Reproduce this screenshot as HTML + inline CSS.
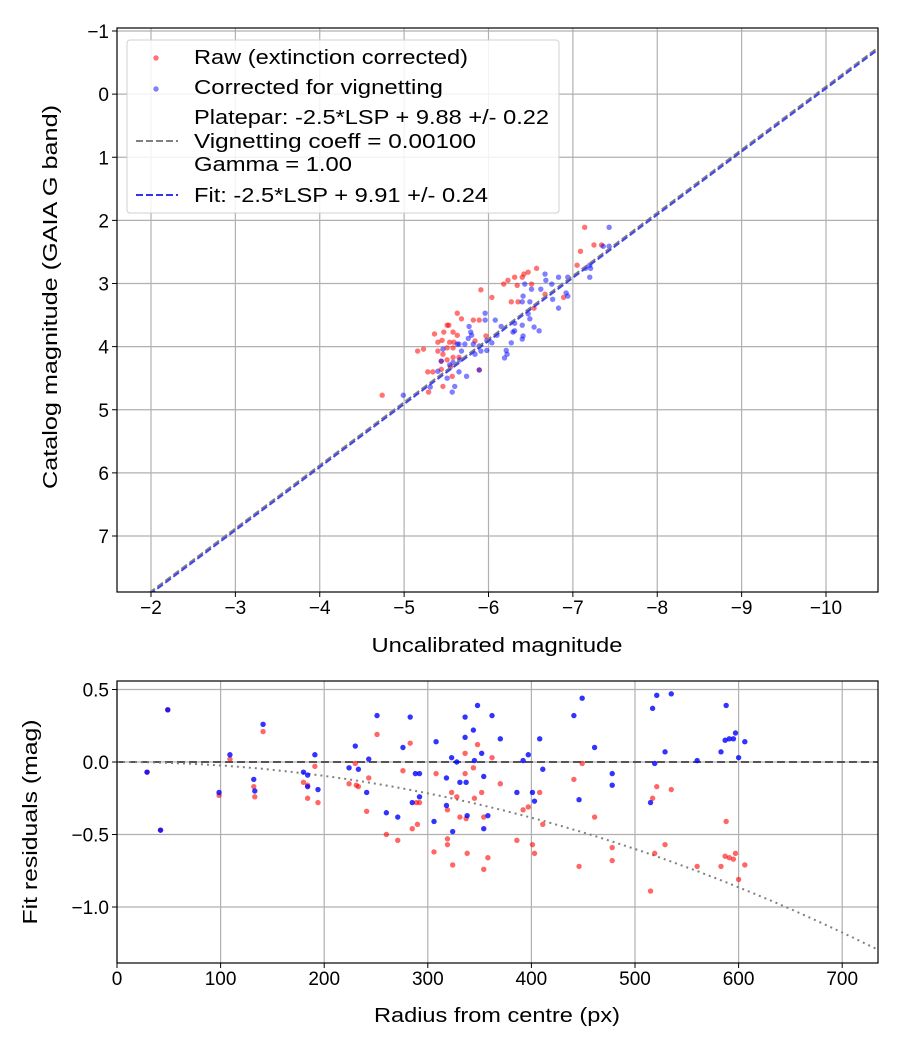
<!DOCTYPE html>
<html><head><meta charset="utf-8"><style>
body{margin:0;background:#fff;}
svg{display:block;font-family:"Liberation Sans","DejaVu Sans",sans-serif;}
</style></head><body>
<svg id="chart" width="900" height="1050" viewBox="0 0 900 1050" xmlns="http://www.w3.org/2000/svg">
<rect width="900" height="1050" fill="#fff"/>
<g id="top"></g><g id="bot"></g>
</svg>
<script>
// Top panel data: [uncalibrated magnitude, catalog magnitude]
const rawTop=[[-7.14,2.11],[-7.09,2.49],[-7.25,2.39],[-7.34,2.39],[-7.05,2.71],[-6.57,2.76],[-6.47,2.82],[-6.42,2.85],[-6.40,2.90],[-6.31,2.90],[-6.23,2.95],[-6.18,3.01],[-6.34,3.03],[-6.51,3.01],[-5.91,3.10],[-6.04,3.22],[-6.27,3.29],[-6.35,3.29],[-6.54,3.39],[-6.89,3.22],[-6.67,3.17],[-5.63,3.47],[-5.68,3.56],[-5.82,3.58],[-5.89,3.58],[-5.51,3.66],[-5.53,3.66],[-5.47,3.77],[-5.58,3.77],[-5.63,3.82],[-5.36,3.80],[-5.45,3.90],[-5.40,3.93],[-5.54,3.93],[-5.59,3.93],[-5.16,4.07],[-5.23,4.04],[-5.40,4.07],[-5.51,4.02],[-5.58,4.02],[-5.84,3.91],[-5.97,3.83],[-5.46,4.12],[-5.44,4.23],[-5.51,4.21],[-5.58,4.17],[-5.65,4.17],[-5.55,4.32],[-5.28,4.40],[-5.34,4.40],[-5.44,4.36],[-5.57,4.47],[-5.46,4.63],[-5.29,4.72],[-4.74,4.77],[-5.89,4.37]];
const corTop=[[-7.43,2.11],[-7.43,2.41],[-7.36,2.41],[-7.20,2.71],[-7.21,2.76],[-7.15,2.76],[-7.20,2.90],[-6.94,2.90],[-6.83,2.90],[-6.67,2.85],[-6.68,2.95],[-6.43,3.01],[-6.51,3.09],[-6.62,3.09],[-6.75,3.01],[-6.92,3.15],[-6.94,3.20],[-6.76,3.25],[-6.83,3.39],[-6.41,3.20],[-6.40,3.29],[-6.49,3.29],[-6.47,3.48],[-6.49,3.56],[-5.96,3.47],[-5.96,3.58],[-6.08,3.58],[-5.77,3.68],[-6.15,3.68],[-6.31,3.63],[-6.40,3.66],[-6.54,3.69],[-6.60,3.75],[-5.79,3.77],[-5.80,3.82],[-6.31,3.75],[-6.29,3.77],[-6.41,3.83],[-6.40,3.88],[-5.76,3.87],[-6.10,3.82],[-5.65,3.96],[-5.72,3.96],[-5.82,3.96],[-5.89,3.99],[-5.98,3.90],[-6.04,3.94],[-6.27,3.94],[-5.91,4.07],[-5.98,4.06],[-5.84,4.12],[-6.21,4.06],[-6.22,4.12],[-6.19,4.18],[-5.46,4.04],[-5.44,4.23],[-5.58,4.25],[-5.66,4.21],[-5.68,4.07],[-5.63,3.96],[-5.40,4.39],[-5.51,4.50],[-5.65,4.40],[-5.74,4.47],[-5.54,4.29],[-5.60,4.63],[-5.57,4.72],[-5.31,4.64],[-4.99,4.77],[-5.89,4.37]];
const plateparZP=9.88;
const fitZP=9.91;
const topXTicks=[-2,-3,-4,-5,-6,-7,-8,-9,-10];
const topYTicks=[-1,0,1,2,3,4,5,6,7];
// Bottom panel data: [radius px, residual mag]
const rawBot=[[29,-0.07],[49,0.36],[42,-0.47],[98.5,-0.23],[109,0.02],[132,-0.17],[133,-0.24],[141,0.21],[180,-0.14],[184,-0.16],[184,-0.25],[191,-0.03],[194,-0.28],[224,-0.15],[230,-0.01],[231,-0.16],[233,-0.17],[243,-0.11],[241,-0.34],[251,0.19],[260,-0.50],[271,-0.54],[276,-0.06],[283,0.13],[285,-0.46],[290,-0.43],[289,-0.28],[292,-0.28],[306,-0.62],[308,-0.08],[319,-0.33],[319,-0.53],[319,-0.57],[323,-0.21],[328,-0.24],[324,-0.71],[331,-0.38],[337,-0.39],[336,0.06],[336,-0.08],[344,-0.04],[345,-0.25],[348,0.12],[352,-0.21],[354,-0.38],[338,-0.63],[358,-0.66],[354,-0.74],[362,0.03],[370,-0.15],[386,-0.54],[392,-0.33],[397,-0.31],[408,-0.21],[411,-0.43],[401,-0.57],[403,-0.63],[441,-0.12],[449,-0.01],[446,-0.72],[461,-0.38],[478,-0.59],[478,-0.68],[517,-0.25],[521,-0.17],[535,-0.19],[529,-0.57],[519,-0.63],[515,-0.89],[560,-0.72],[583,-0.72],[588,-0.41],[587,-0.65],[591,-0.66],[595,-0.67],[597,-0.63],[606,-0.71],[600,-0.81]];
const corBot=[[29,-0.07],[49,0.36],[42,-0.47],[98.5,-0.21],[109,0.05],[132,-0.12],[133,-0.20],[141,0.26],[180,-0.07],[184,-0.09],[184,-0.17],[191,0.05],[194,-0.19],[224,-0.04],[233,-0.05],[230,0.11],[243,0.02],[241,-0.21],[251,0.32],[260,-0.35],[271,-0.38],[276,0.10],[283,0.31],[285,-0.28],[288,-0.08],[292,-0.08],[292,-0.24],[306,-0.41],[308,0.14],[318,-0.11],[318,-0.30],[323,0.03],[324,-0.48],[328,0.00],[331,-0.14],[337,-0.14],[336,0.31],[336,0.17],[338,-0.37],[344,0.22],[348,0.39],[345,0.01],[352,0.06],[354,-0.10],[354,-0.46],[358,-0.37],[362,0.32],[370,0.16],[386,-0.21],[392,0.01],[397,0.05],[401,-0.21],[403,-0.27],[408,0.16],[411,-0.05],[441,0.32],[449,0.44],[446,-0.26],[461,0.10],[478,-0.08],[478,-0.16],[515,-0.28],[517,0.37],[519,-0.01],[521,0.46],[529,0.07],[535,0.47],[560,0.01],[583,0.07],[587,0.15],[588,0.39],[591,0.16],[595,0.16],[597,0.20],[600,0.03],[606,0.14]];
const botXTicks=[0,100,200,300,400,500,600,700];
const botYTicks=[0.5,0,-0.5,-1.0];
const botYLabels=["0.5","0.0","\u22120.5","\u22121.0"];
const vigQuad=2.4e-6;

const NS="http://www.w3.org/2000/svg";
function mk(parent,tag,attrs){const e=document.createElementNS(NS,tag);for(const k in attrs)e.setAttribute(k,attrs[k]);parent.appendChild(e);return e;}
function txt(parent,x,y,s,anchor,size,extra){const t=mk(parent,'text',Object.assign({x:x,y:y,'text-anchor':anchor,'font-size':size,fill:'#000'},extra||{}));t.textContent=s;return t;}
const minus=v=>String(v).replace('-','\u2212');
const FIT={lengthAdjust:'spacingAndGlyphs'};

// ---------- TOP ----------
const T=document.getElementById('top');
const tL=117,tR=878,tT=28,tB=592;
const tx=v=>151+(-2-v)*84.375;
const ty=v=>31+(v+1)*63.125;
topXTicks.forEach(v=>{const l=mk(T,'line',{x1:tx(v),x2:tx(v),y1:tT,y2:tB,stroke:'#b0b0b0','stroke-width':1.2});});
topYTicks.forEach(v=>{const l=mk(T,'line',{x1:tL,x2:tR,y1:ty(v),y2:ty(v),stroke:'#b0b0b0','stroke-width':1.2});});
const clipT=mk(T,'clipPath',{id:'ct'});mk(clipT,'rect',{x:tL,y:tT,width:tR-tL,height:tB-tT});
const gT=mk(T,'g',{'clip-path':'url(#ct)'});
rawTop.forEach(p=>{const c=mk(gT,'circle',{cx:tx(p[0]),cy:ty(p[1]),r:2.7,fill:'red','fill-opacity':0.55});});
corTop.forEach(p=>{const c=mk(gT,'circle',{cx:tx(p[0]),cy:ty(p[1]),r:2.7,fill:'blue','fill-opacity':0.5});});
const xa=-1.6,xb=-10.7;
const pl=mk(gT,'line',{x1:tx(xa),y1:ty(xa+plateparZP),x2:tx(xb),y2:ty(xb+plateparZP),stroke:'#808080','stroke-width':2,'stroke-dasharray':'7,3'});

const fl=mk(gT,'line',{x1:tx(xa),y1:ty(xa+fitZP),x2:tx(xb),y2:ty(xb+fitZP),stroke:'#3333ee','stroke-width':2,'stroke-dasharray':'7,3','stroke-opacity':0.9});

const fr=mk(T,'rect',{x:tL,y:tT,width:tR-tL,height:tB-tT,fill:'none',stroke:'#000','stroke-width':1.2});

topXTicks.forEach(v=>{mk(T,'line',{x1:tx(v),x2:tx(v),y1:tB,y2:tB+5,stroke:'#000'});const t=txt(T,tx(v),tB+22,minus(v),'middle',19);});
topYTicks.forEach(v=>{mk(T,'line',{x1:tL-5,x2:tL,y1:ty(v),y2:ty(v),stroke:'#000'});const t=txt(T,tL-8,ty(v)+7,minus(v),'end',19);});
let t1=txt(T,497,652,'Uncalibrated magnitude','middle',20,Object.assign({textLength:251},FIT));
let t2=txt(T,0,0,'Catalog magnitude (GAIA G band)','middle',20,Object.assign({textLength:384,transform:'translate(57,297) rotate(-90)'},FIT));
// legend
const L=mk(T,'g',{});
mk(L,'rect',{x:127,y:40,width:432,height:173,rx:3,fill:'#fff','fill-opacity':0.85,stroke:'#d0d0d0'});
mk(L,'circle',{cx:156,cy:58,r:2.7,fill:'red','fill-opacity':0.55});
mk(L,'circle',{cx:156,cy:89,r:2.7,fill:'blue','fill-opacity':0.5});
mk(L,'line',{x1:136,x2:178,y1:141,y2:141,stroke:'#808080','stroke-width':2,'stroke-dasharray':'7,3'});
mk(L,'line',{x1:136,x2:178,y1:195,y2:195,stroke:'#3333ee','stroke-width':2,'stroke-dasharray':'7,3'});
[['Raw (extinction corrected)',64,274],['Corrected for vignetting',94,249],['Platepar: -2.5*LSP + 9.88 +/- 0.22',124,355],['Vignetting coeff = 0.00100',148,282],['Gamma = 1.00',171,158],['Fit: -2.5*LSP + 9.91 +/- 0.24',202,294]].forEach(a=>{const t=txt(L,194,a[1],a[0],'start',20,Object.assign({textLength:a[2]},FIT));});

// ---------- BOTTOM ----------
const B=document.getElementById('bot');
const bL=117,bR=878,bT=681,bB=963;
const bx=v=>117+v*1.036;
const by=v=>762-v*145;
botXTicks.forEach(v=>{const l=mk(B,'line',{x1:bx(v),x2:bx(v),y1:bT,y2:bB,stroke:'#b0b0b0','stroke-width':1.2});});
botYTicks.forEach(v=>{const l=mk(B,'line',{x1:bL,x2:bR,y1:by(v),y2:by(v),stroke:'#b0b0b0','stroke-width':1.2});});
const clipB=mk(B,'clipPath',{id:'cb'});mk(clipB,'rect',{x:bL,y:bT,width:bR-bL,height:bB-bT});
const gB=mk(B,'g',{'clip-path':'url(#cb)'});
const zl=mk(gB,'line',{x1:bL,x2:bR,y1:by(0),y2:by(0),stroke:'#555','stroke-width':2,'stroke-dasharray':'8,4'});

let d='';for(let r=0;r<=740;r+=5){d+=(r?'L':'M')+bx(r).toFixed(1)+','+by(-vigQuad*r*r).toFixed(1);}
const vc=mk(gB,'path',{d:d,fill:'none',stroke:'#808080','stroke-width':2,'stroke-dasharray':'2,4'});

rawBot.forEach(p=>{const c=mk(gB,'circle',{cx:bx(p[0]),cy:by(p[1]),r:2.7,fill:'red','fill-opacity':0.6});});
corBot.forEach(p=>{const c=mk(gB,'circle',{cx:bx(p[0]),cy:by(p[1]),r:2.7,fill:'blue','fill-opacity':0.8});});
const fb=mk(B,'rect',{x:bL,y:bT,width:bR-bL,height:bB-bT,fill:'none',stroke:'#000','stroke-width':1.2});

botXTicks.forEach(v=>{mk(B,'line',{x1:bx(v),x2:bx(v),y1:bB,y2:bB+5,stroke:'#000'});const t=txt(B,bx(v),bB+22,String(v),'middle',19);});
botYTicks.forEach((v,i)=>{mk(B,'line',{x1:bL-5,x2:bL,y1:by(v),y2:by(v),stroke:'#000'});const t=txt(B,bL-8,by(v)+7,botYLabels[i],'end',19);});
let t3=txt(B,497,1022,'Radius from centre (px)','middle',20,Object.assign({textLength:246},FIT));
let t4=txt(B,0,0,'Fit residuals (mag)','middle',20,Object.assign({textLength:205,transform:'translate(37,822) rotate(-90)'},FIT));
</script>
</body></html>
